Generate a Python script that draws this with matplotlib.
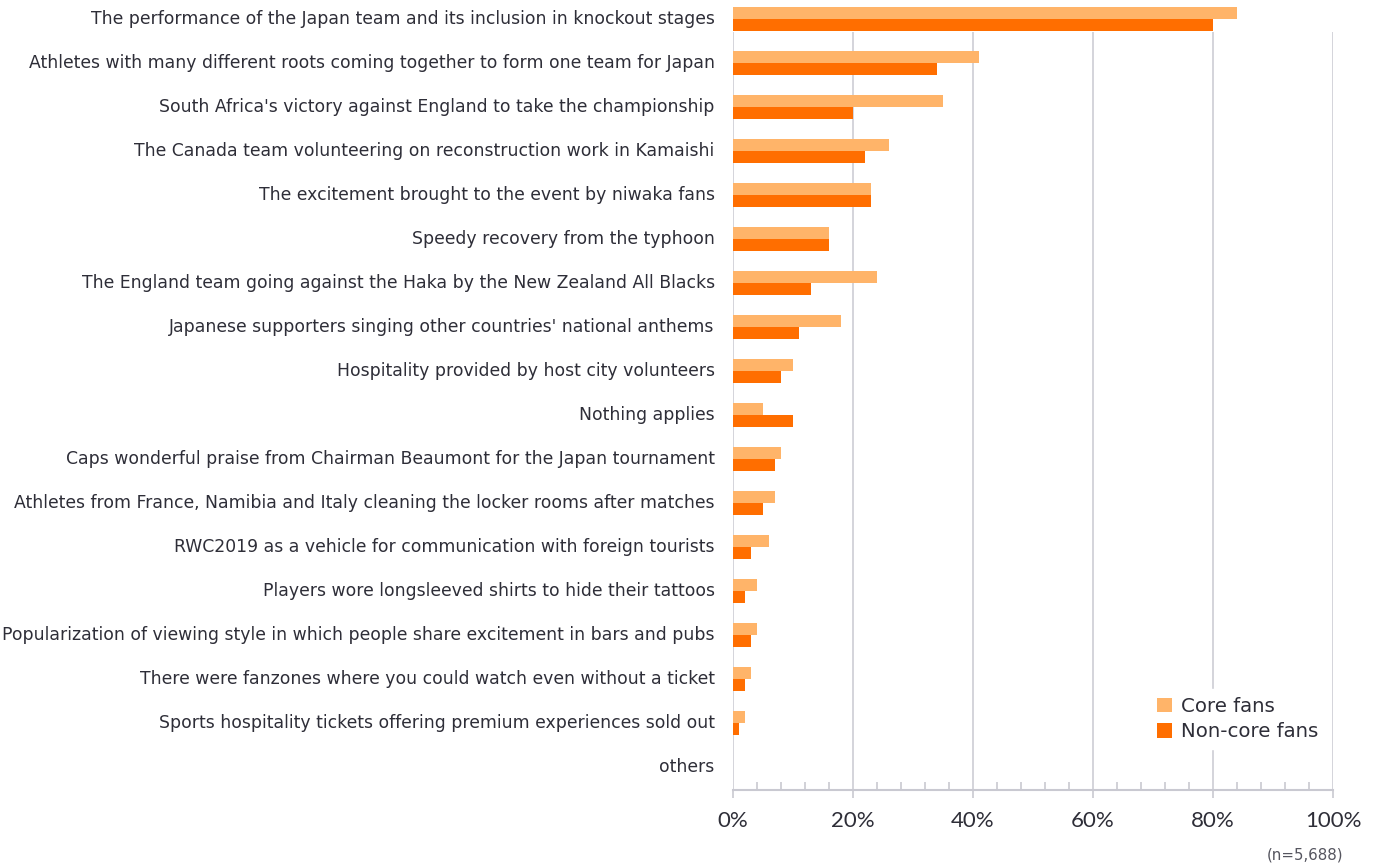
import numpy as np
import matplotlib.pyplot as plt
import matplotlib.transforms as mtransforms
from matplotlib.ticker import MultipleLocator, FuncFormatter

# ----------------------------------
# Survey data (% of respondents)
# ----------------------------------
items = [
    "The performance of the Japan team and its inclusion in knockout stages",
    "Athletes with many different roots coming together to form one team for Japan",
    "South Africa's victory against England to take the championship",
    "The Canada team volunteering on reconstruction work in Kamaishi",
    "The excitement brought to the event by niwaka fans",
    "Speedy recovery from the typhoon",
    "The England team going against the Haka by the New Zealand All Blacks",
    "Japanese supporters singing other countries' national anthems",
    "Hospitality provided by host city volunteers",
    "Nothing applies",
    "Caps wonderful praise from Chairman Beaumont for the Japan tournament",
    "Athletes from France, Namibia and Italy cleaning the locker rooms after matches",
    "RWC2019 as a vehicle for communication with foreign tourists",
    "Players wore longsleeved shirts to hide their tattoos",
    "Popularization of viewing style in which people share excitement in bars and pubs",
    "There were fanzones where you could watch even without a ticket",
    "Sports hospitality tickets offering premium experiences sold out",
    "others",
]
core_fans = [84, 41, 35, 26, 23, 16, 24, 18, 10, 5, 8, 7, 6, 4, 4, 3, 2, 0]
non_core_fans = [80, 34, 20, 22, 23, 16, 13, 11, 8, 10, 7, 5, 3, 2, 3, 2, 1, 0]
x_ticks = [0, 20, 40, 60, 80, 100]

core_color = "#FFB469"
noncore_color = "#FF6E00"
grid_color = "#C9C9D1"
text_color = "#2E2E38"

# ----------------------------------
# Figure
# ----------------------------------
fig = plt.figure(figsize=(13.8, 8.65), dpi=100)
ax = fig.add_axes([0.531, 0.0867, 0.435, 0.9133])

y = np.arange(len(items))
bar_h = 0.28
ax.barh(y - bar_h / 2, core_fans, height=bar_h, color=core_color, label="Core fans", zorder=3)
ax.barh(y + bar_h / 2, non_core_fans, height=bar_h, color=noncore_color, label="Non-core fans", zorder=3)

ax.set_xlim(0, 100)
ax.set_ylim(len(items) - 0.48, -0.43)

# gridlines only run below the first row
ax.vlines(x_ticks, len(items) - 0.48, 0.3, color=grid_color, linewidth=1.1, zorder=1)

for side in ["top", "right", "left"]:
    ax.spines[side].set_visible(False)
ax.spines["bottom"].set_color(grid_color)
ax.spines["bottom"].set_linewidth(1.5)

ax.set_yticks(y)
ax.set_yticklabels(items, fontsize=12.4, color=text_color, fontfamily="DejaVu Sans")
ax.tick_params(axis="y", length=0, pad=13)
lift = mtransforms.ScaledTranslation(0, 2 / 100, fig.dpi_scale_trans)
for lbl in ax.get_yticklabels():
    lbl.set_transform(lbl.get_transform() + lift)

ax.set_xticks(x_ticks)
ax.xaxis.set_major_formatter(FuncFormatter(lambda v, p: f"{v:.0f}%"))
ax.xaxis.set_minor_locator(MultipleLocator(4))
ax.tick_params(axis="x", which="major", direction="out", length=6, width=1.2,
               color=grid_color, labelsize=16, labelcolor=text_color, pad=9)
ax.tick_params(axis="x", which="minor", direction="in", length=6, width=1.2, color=grid_color)
for lbl in ax.get_xticklabels():
    lbl.set_fontfamily("Lato")

leg = ax.legend(loc="upper left", bbox_to_anchor=(1149.5 / 1380, 1 - 689 / 865),
                bbox_transform=fig.transFigure, borderaxespad=0, borderpad=0.4,
                frameon=True, facecolor="white", edgecolor="white", framealpha=1,
                handlelength=0.72, handleheight=0.72, handletextpad=0.5,
                labelspacing=0.33, prop={"family": "DejaVu Sans", "size": 14.2})
for t in leg.get_texts():
    t.set_color(text_color)
leg.set_zorder(5)

fig.text(1305 / 1380, 1 - 855 / 865, "(n=5,688)", ha="center", va="center", fontsize=10.8,
         color="#55555F", fontfamily="DejaVu Sans")

plt.savefig("out.png", dpi=100)
plt.close()
